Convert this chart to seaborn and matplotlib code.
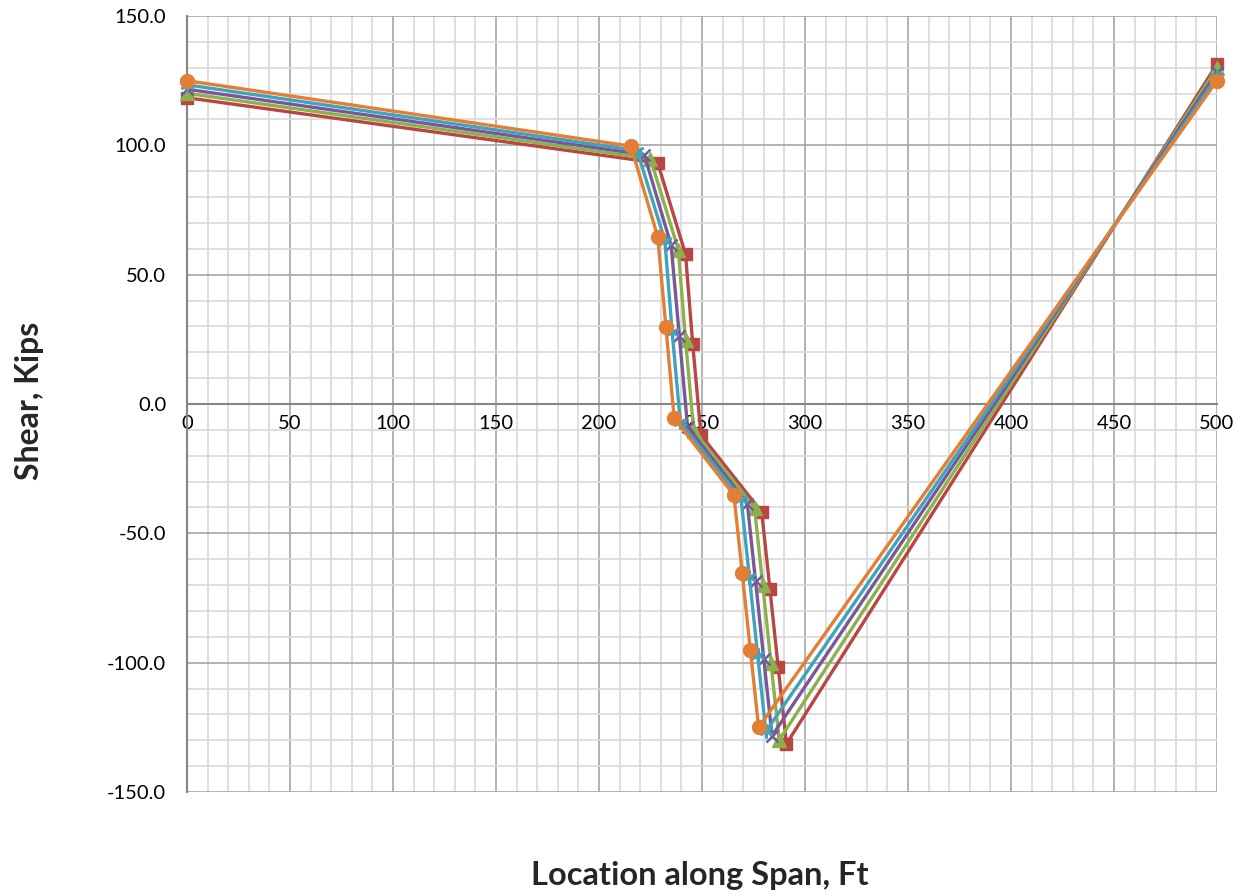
import numpy as np
import pandas as pd
import matplotlib
matplotlib.use('Agg')
import matplotlib.pyplot as plt
import seaborn as sns
from matplotlib.ticker import MultipleLocator

# Shear diagrams, five load positions
x_red = [0, 228.5, 242, 245.5, 249.5, 279, 283, 287, 291, 500]
y_red = [118.4, 93.2, 58.0, 23.2, -12.0, -41.8, -71.7, -101.8, -131.4, 131.4]

x_green = [0, 225, 238.5, 242, 246, 275.5, 279.5, 283.5, 287.5, 500]
y_green = [120.1, 94.8, 59.7, 24.8, -10.4, -40.1, -70.1, -100.2, -129.9, 129.9]

x_purple = [0, 222, 235, 239, 243, 272, 276, 280, 284, 500]
y_purple = [121.7, 96.4, 61.4, 26.4, -8.8, -38.5, -68.4, -98.6, -128.3, 128.3]

x_teal = [0, 218.5, 232, 235.5, 239.5, 269, 273, 277, 281, 500]
y_teal = [123.4, 98.0, 63.1, 28.0, -7.1, -36.8, -66.8, -96.9, -126.6, 126.6]

x_orange = [0, 215.5, 228.5, 232.5, 236.5, 265.5, 269.5, 273.5, 277.5, 500]
y_orange = [125.0, 99.7, 64.7, 29.7, -5.5, -35.2, -65.2, -95.3, -125.0, 125.0]

series = [
    ('Red', x_red, y_red, '#B94644', 's', 9),
    ('Green', x_green, y_green, '#8DB14A', '^', 10),
    ('Purple', x_purple, y_purple, '#77589B', 'x', 9),
    ('Teal', x_teal, y_teal, '#3FA3BE', (6, 2, 0), 10),
    ('Orange', x_orange, y_orange, '#E27F35', 'o', 10),
]

sns.set_style('white')
plt.rcParams['font.family'] = ['Lato', 'DejaVu Sans']

fig = plt.figure(figsize=(12.36, 8.96), dpi=100)
ax = fig.add_axes([0.1513, 0.1161, 0.8333, 0.866])

for name, xs, ys, color, mk, ms in series:
    df = pd.DataFrame({'x': xs, 'y': ys})
    sns.lineplot(data=df, x='x', y='y', ax=ax, color=color, linewidth=2.4,
                 marker=mk, markersize=ms, markeredgecolor=color,
                 markeredgewidth=1.8 if mk in ('x', (6, 2, 0)) else 1,
                 sort=False, estimator=None, zorder=3, clip_on=False)

ax.set_xlim(0, 500)
ax.set_ylim(-150, 150)
ax.xaxis.set_major_locator(MultipleLocator(50))
ax.xaxis.set_minor_locator(MultipleLocator(10))
ax.yaxis.set_major_locator(MultipleLocator(50))
ax.yaxis.set_minor_locator(MultipleLocator(10))
ax.grid(which='major', color='#a6a6a6', linewidth=1.2, zorder=0)
ax.grid(which='minor', color='#d9d9d9', linewidth=1.2, zorder=0)
ax.set_axisbelow(True)

ax.spines['top'].set_visible(False)
ax.spines['right'].set_visible(False)
ax.spines['bottom'].set_position(('data', 0))
for s in ('left', 'bottom'):
    ax.spines[s].set_color('#868686')
    ax.spines[s].set_linewidth(1.5)
    ax.spines[s].set_zorder(2)

ax.set_yticks(np.arange(-150, 151, 50))
ax.set_yticklabels([f'{v:.1f}' for v in np.arange(-150, 151, 50)])
ax.tick_params(axis='both', which='major', direction='out', length=6,
               color='#868686', labelsize=14.5, labelcolor='black')
ax.tick_params(axis='both', which='minor', length=0)
ax.tick_params(axis='y', pad=9)
ax.tick_params(axis='x', pad=2)

ax.set_xlabel('')
ax.set_ylabel('')
fig.text(0.566, 0.007, 'Location along Span, Ft', ha='center', va='bottom',
         fontsize=23.5, fontweight='bold')
fig.text(0.024, 0.553, 'Shear, Kips', ha='center', va='center', rotation=90,
         fontsize=23, fontweight='bold')

fig.savefig('out.png', dpi=100)
